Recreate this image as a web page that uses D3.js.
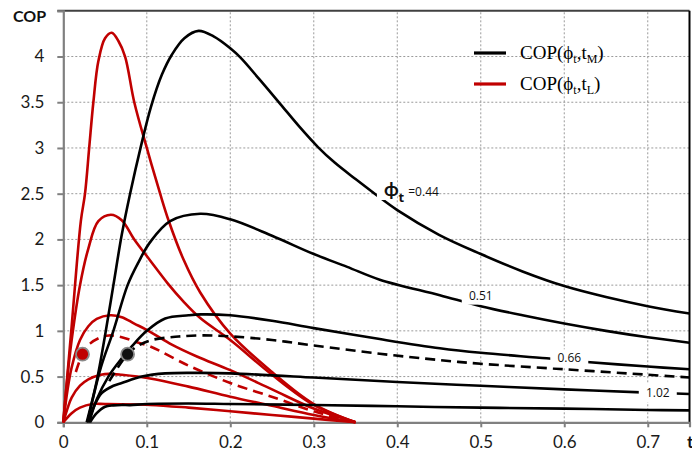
<!DOCTYPE html>
<html><head><meta charset="utf-8">
<script src="https://cdn.jsdelivr.net/npm/d3@7"></script>
<style>body{margin:0;background:#fff;} svg{display:block;}</style>
</head><body>
<svg id="chart" width="692" height="459"></svg>
<script>
// ---------- data ----------
const xTicks = [0, 0.1, 0.2, 0.3, 0.4, 0.5, 0.6, 0.7];
const yTicks = [0, 0.5, 1, 1.5, 2, 2.5, 3, 3.5, 4];

// COP(phi_t, t_M) – black
const black044 = [[0.028,0],[0.04,0.45],[0.05,0.95],[0.06,1.5],[0.07,2.05],[0.08,2.5],[0.093,3.02],[0.105,3.45],[0.118,3.8],[0.13,4.02],[0.145,4.2],[0.162,4.28],[0.18,4.22],[0.2,4.09],[0.212,3.99],[0.235,3.75],[0.26,3.48],[0.283,3.23],[0.305,3.01],[0.325,2.84],[0.35,2.66],[0.373,2.5],[0.4,2.32],[0.45,2.05],[0.5,1.84],[0.55,1.65],[0.6,1.49],[0.65,1.37],[0.7,1.27],[0.75,1.19]];
const black051 = [[0.029,0],[0.045,0.6],[0.06,1.0],[0.077,1.5],[0.09,1.75],[0.104,1.97],[0.128,2.2],[0.164,2.28],[0.2,2.22],[0.25,2.04],[0.3,1.84],[0.34,1.7],[0.379,1.56],[0.451,1.39],[0.5,1.27],[0.55,1.17],[0.6,1.08],[0.65,1.0],[0.7,0.93],[0.75,0.87]];
const black066 = [[0.031,0],[0.04,0.25],[0.054,0.5],[0.07,0.7],[0.082,0.83],[0.1,1.0],[0.122,1.135],[0.15,1.17],[0.165,1.18],[0.2,1.17],[0.25,1.11],[0.3,1.03],[0.379,0.91],[0.451,0.81],[0.5,0.76],[0.579,0.7],[0.627,0.66],[0.7,0.61],[0.75,0.58]];
const blackDash = [[0.055,0.45],[0.077,0.745],[0.09,0.84],[0.106,0.9],[0.134,0.935],[0.164,0.95],[0.2,0.94],[0.25,0.9],[0.3,0.84],[0.379,0.75],[0.451,0.68],[0.5,0.64],[0.6,0.58],[0.7,0.52],[0.75,0.49]];
const black102 = [[0.03,0],[0.037,0.18],[0.046,0.32],[0.06,0.4],[0.07,0.43],[0.094,0.5],[0.122,0.535],[0.165,0.54],[0.2,0.535],[0.3,0.49],[0.4,0.44],[0.5,0.4],[0.6,0.36],[0.7,0.325],[0.75,0.31]];
const blackLow = [[0.032,0],[0.04,0.1],[0.05,0.17],[0.06,0.185],[0.07,0.19],[0.08,0.188],[0.1,0.2],[0.15,0.205],[0.2,0.2],[0.3,0.19],[0.4,0.175],[0.5,0.16],[0.6,0.15],[0.7,0.135],[0.75,0.13]];

// COP(phi_t, t_L) – red
const red1 = [[0,0],[0.01,1.05],[0.021,2.2],[0.026,2.5],[0.031,3.0],[0.036,3.5],[0.042,3.95],[0.05,4.2],[0.058,4.26],[0.066,4.17],[0.074,4.0],[0.085,3.5],[0.1,3.0],[0.116,2.5],[0.126,2.21],[0.144,1.78],[0.164,1.42],[0.2,0.97],[0.25,0.55],[0.3,0.2],[0.35,0]];
const red2 = [[0,0],[0.005,0.5],[0.01,0.9],[0.02,1.5],[0.03,1.9],[0.042,2.2],[0.057,2.27],[0.07,2.21],[0.085,2.0],[0.104,1.77],[0.125,1.52],[0.144,1.32],[0.164,1.14],[0.2,0.9],[0.25,0.52],[0.3,0.19],[0.35,0]];
const red3 = [[0,0],[0.005,0.35],[0.01,0.6],[0.02,0.9],[0.03,1.05],[0.04,1.13],[0.056,1.17],[0.07,1.15],[0.085,1.08],[0.104,0.99],[0.13,0.85],[0.16,0.72],[0.2,0.57],[0.25,0.36],[0.3,0.15],[0.35,0]];
const redDash = [[0.015,0.55],[0.023,0.745],[0.032,0.86],[0.045,0.93],[0.055,0.95],[0.07,0.93],[0.09,0.87],[0.104,0.83],[0.15,0.62],[0.2,0.43],[0.256,0.26],[0.3,0.12],[0.35,0]];
const red5 = [[0,0],[0.005,0.15],[0.01,0.27],[0.02,0.4],[0.03,0.47],[0.045,0.52],[0.055,0.53],[0.07,0.52],[0.104,0.48],[0.15,0.39],[0.2,0.28],[0.25,0.18],[0.3,0.08],[0.35,0]];
const red6 = [[0,0],[0.01,0.1],[0.02,0.16],[0.035,0.2],[0.05,0.2],[0.104,0.19],[0.15,0.16],[0.2,0.12],[0.25,0.08],[0.3,0.04],[0.35,0]];

const markers = [{t:0.023, cop:0.745, color:"#c00000"}, {t:0.077, cop:0.745, color:"#111111"}];
const legendItems = [{color:"#000000", main:"COP(ϕ", s1:"t", mid:",t", s2:"M"}, {color:"#c00000", main:"COP(ϕ", s1:"t", mid:",t", s2:"L"}];
const curveLabels = [{text:"0.51", t:0.5, cop:1.385}, {text:"0.66", t:0.606, cop:0.70}, {text:"1.02", t:0.712, cop:0.32}];

// ---------- layout ----------
const svg = d3.select("#chart");
const x = d3.scaleLinear().domain([0, 0.75]).range([63.3, 689.5]);
const y = d3.scaleLinear().domain([0, 4.5]).range([422.3, 10.8]);
const tickFont = "Lato, 'Open Sans', sans-serif";

// grid
const grid = svg.append("g");
grid.selectAll(".gx").data(xTicks.filter(d => d > 0)).join("line")
  .attr("x1", d => x(d)).attr("x2", d => x(d)).attr("y1", y(0)).attr("y2", y(4.5))
  .attr("stroke", "#9a9a9a").attr("stroke-width", 1).attr("stroke-dasharray", "2,2");
grid.selectAll(".gy").data(yTicks.filter(d => d > 0)).join("line")
  .attr("y1", d => y(d)).attr("y2", d => y(d)).attr("x1", x(0)).attr("x2", x(0.75))
  .attr("stroke", "#9a9a9a").attr("stroke-width", 1).attr("stroke-dasharray", "2,2");

// frame top/right
svg.append("line").attr("x1", x(0) - 6).attr("x2", x(0.75)).attr("y1", y(4.5)).attr("y2", y(4.5))
  .attr("stroke", "#404040").attr("stroke-width", 2);
svg.append("line").attr("x1", x(0.75)).attr("x2", x(0.75)).attr("y1", y(4.5)).attr("y2", y(0))
  .attr("stroke", "#000").attr("stroke-width", 2);

// axes
const xAxis = svg.append("g").attr("transform", `translate(0,${y(0)})`)
  .call(d3.axisBottom(x).tickValues(xTicks).tickSize(5).tickPadding(9).tickFormat(d => String(d)));
const yAxis = svg.append("g").attr("transform", `translate(${x(0)},0)`)
  .call(d3.axisLeft(y).tickValues(yTicks).tickSize(6).tickPadding(13).tickFormat(d => String(d)));
[xAxis, yAxis].forEach(a => {
  a.select(".domain").attr("stroke", "#808080").attr("stroke-width", 2.2);
  a.selectAll(".tick line").attr("stroke", "#808080").attr("stroke-width", 2);
  a.selectAll(".tick text").attr("font-family", tickFont).attr("font-size", 17).attr("fill", "#1a1a1a");
});
svg.append("text").attr("x", 13).attr("y", 22).attr("font-family", tickFont).attr("font-weight", "bold")
  .attr("font-size", 16).attr("fill", "#111").text("COP");
svg.append("text").attr("x", 687).attr("y", 448).attr("font-family", tickFont).attr("font-weight", "bold")
  .attr("font-size", 17).attr("fill", "#111").text("t");

// curves
const line = d3.line().x(d => x(d[0])).y(d => y(d[1])).curve(d3.curveCatmullRom.alpha(0.5));
const plot = svg.append("g");
const series = [
  {d: red1, c: "#c00000"}, {d: red2, c: "#c00000"}, {d: red3, c: "#c00000"},
  {d: redDash, c: "#c00000", dash: true}, {d: red5, c: "#c00000"}, {d: red6, c: "#c00000"},
  {d: black044, c: "#000"}, {d: black051, c: "#000"}, {d: black066, c: "#000"},
  {d: blackDash, c: "#000", dash: true}, {d: black102, c: "#000"}, {d: blackLow, c: "#000"}
];
plot.selectAll("path").data(series).join("path")
  .attr("d", s => line(s.d)).attr("fill", "none").attr("stroke", s => s.c)
  .attr("stroke-width", 2.6).attr("stroke-dasharray", s => s.dash ? "10,6" : null)
  .attr("stroke-linejoin", "round");

// markers
svg.selectAll(".mk").data(markers).join("circle")
  .attr("cx", d => x(d.t)).attr("cy", d => y(d.cop)).attr("r", 6.5)
  .attr("fill", d => d.color).attr("stroke", "#8a8a8a").attr("stroke-width", 1.8);

// curve labels
const lblFont = "'Open Sans', Lato, sans-serif";
curveLabels.forEach(l => {
  const g = svg.append("g").attr("transform", `translate(${x(l.t)},${y(l.cop)})`);
  g.append("rect").attr("x", -19).attr("y", -9).attr("width", 38).attr("height", 18).attr("fill", "#fff");
  g.append("text").attr("text-anchor", "middle").attr("dy", "0.35em").attr("font-family", lblFont)
    .attr("font-size", 12).attr("fill", "#111").text(l.text);
});
// phi_t = 0.44 label
{
  const g = svg.append("g").attr("transform", `translate(${x(0.384)},${y(2.54)})`);
  g.append("rect").attr("x", -7).attr("y", -12).attr("width", 20).attr("height", 22).attr("fill", "#fff");
  g.append("rect").attr("x", 16).attr("y", -8).attr("width", 34).attr("height", 15).attr("fill", "#fff");
  const t = g.append("text").attr("font-family", lblFont).attr("fill", "#111").attr("dy", "0.35em");
  t.append("tspan").attr("font-size", 19).attr("font-weight", "bold").text("ϕ");
  t.append("tspan").attr("font-size", 13).attr("font-weight", "bold").attr("dy", 6).text("t");
  t.append("tspan").attr("font-size", 12).attr("dy", -6).attr("dx", 4).text("=0.44");
}

// legend
legendItems.forEach((l, i) => {
  const yy = 53 + i * 31;
  svg.append("line").attr("x1", 474).attr("x2", 506).attr("y1", yy).attr("y2", yy)
    .attr("stroke", l.color).attr("stroke-width", 3.2);
  const t = svg.append("text").attr("x", 520).attr("y", yy + 6).attr("font-family", "'Liberation Serif', 'Times New Roman', serif")
    .attr("font-size", 19).attr("fill", "#000");
  t.append("tspan").text(l.main);
  t.append("tspan").attr("font-size", 12).attr("dy", 4).text(l.s1);
  t.append("tspan").attr("dy", -4).text(l.mid);
  t.append("tspan").attr("font-size", 12).attr("dy", 4).text(l.s2);
  t.append("tspan").attr("dy", -4).text(")");
});
</script>
</body></html>
